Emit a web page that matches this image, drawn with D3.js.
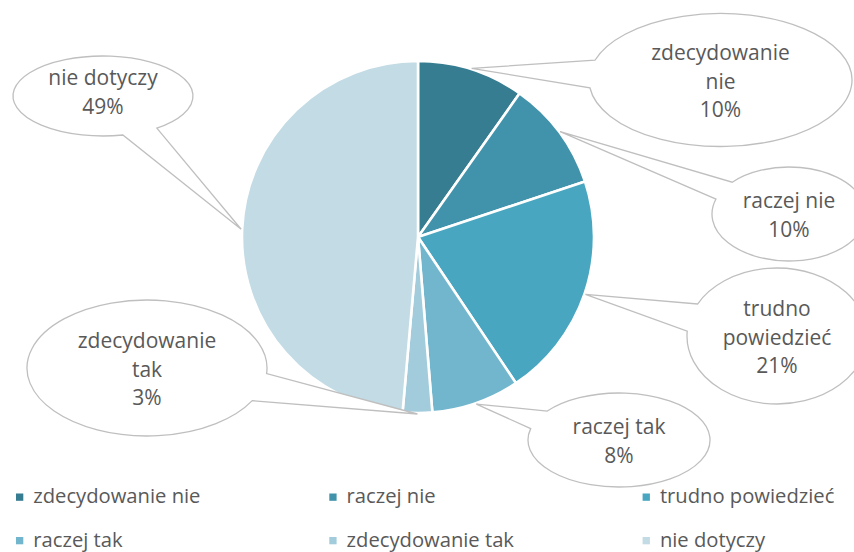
<!DOCTYPE html>
<html>
<head>
<meta charset="utf-8">
<script src="https://cdn.jsdelivr.net/npm/d3@7"></script>
<style>
  html, body { margin: 0; padding: 0; background: #fff; }
  svg { display: block; }
  text { font-family: "Open Sans", Lato, sans-serif; fill: #595959; }
</style>
</head>
<body>
<svg id="chart" width="854" height="552"></svg>
<script>
// ---- data ----
const categories = ["zdecydowanie nie", "raczej nie", "trudno powiedzieć", "raczej tak", "zdecydowanie tak", "nie dotyczy"];
const values = [9.8, 10.1, 20.7, 8.1, 2.7, 48.6];
const labelLines = [["zdecydowanie", "nie"], ["raczej nie"], ["trudno", "powiedzieć"], ["raczej tak"], ["zdecydowanie", "tak"], ["nie dotyczy"]];
const colors = ["#367D91", "#4193AB", "#48A6C0", "#72B6CD", "#A2CCDC", "#C2DBE4"];

// ---- layout ----
const W = 854, H = 552;
const cx = 418, cy = 237, R = 176;
const callouts = [
  { x: 720.5, y: 80, rx: 131.5, ry: 66.5, ty: 80 },
  { x: 789, y: 214, rx: 77, ry: 47, ty: 214 },
  { x: 777, y: 336, rx: 90, ry: 68, ty: 336 },
  { x: 619, y: 440, rx: 91, ry: 47, ty: 440 },
  { x: 147, y: 368, rx: 120, ry: 68, ty: 368 },
  { x: 103, y: 96, rx: 90, ry: 40, ty: 91 }
];
const fontSize = 21, legendFontSize = 20.2, lineH = 28.5;

const svg = d3.select("#chart");
const total = d3.sum(values);
const pct = d3.format(".0%");

const pie = d3.pie().sort(null).value(d => d)(values);
const arc = d3.arc().innerRadius(0).outerRadius(R);
const tipArc = d3.arc().innerRadius(R + 1).outerRadius(R + 1);

const g = svg.append("g").attr("transform", `translate(${cx},${cy})`);
g.selectAll("path.slice").data(pie).join("path")
  .attr("class", "slice")
  .attr("d", arc)
  .attr("fill", (d, i) => colors[i])
  .attr("stroke", "#fff")
  .attr("stroke-width", 2.6)
  .attr("stroke-linejoin", "round");

// callouts
const delta = 12 * Math.PI / 180;
pie.forEach((d, i) => {
  const c = callouts[i];
  const [tx0, ty0] = tipArc.centroid(d);
  const tx = tx0 + cx, ty = ty0 + cy;
  const th = Math.atan2((ty - c.y) / c.ry, (tx - c.x) / c.rx);
  const p1 = [c.x + c.rx * Math.cos(th + delta), c.y + c.ry * Math.sin(th + delta)];
  const p2 = [c.x + c.rx * Math.cos(th - delta), c.y + c.ry * Math.sin(th - delta)];
  const path = `M${p1[0]},${p1[1]} A${c.rx},${c.ry} 0 1 1 ${p2[0]},${p2[1]} L${tx},${ty} Z`;
  svg.append("path").attr("d", path)
    .attr("fill", "#fff").attr("stroke", "#BFBFBF").attr("stroke-width", 1.3)
    .attr("stroke-linejoin", "miter");
  const lines = labelLines[i].concat([pct(values[i] / total)]);
  const t = svg.append("text").attr("text-anchor", "middle").attr("font-size", fontSize);
  const y0 = c.ty - (lines.length - 1) * lineH / 2 + 8.5;
  lines.forEach((l, k) => t.append("tspan").attr("x", c.x).attr("y", y0 + k * lineH).text(l));
});

// legend
const legX = d3.scalePoint().domain([0, 1, 2]).range([16, 642.6]);
const legY = d3.scalePoint().domain([0, 1]).range([497, 540.5]);
const leg = svg.append("g");
categories.forEach((name, i) => {
  const col = i % 3, row = Math.floor(i / 3);
  const x = legX(col), y = legY(row);
  leg.append("rect").attr("x", x).attr("y", y - 3.5).attr("width", 7.3).attr("height", 7.3).attr("fill", colors[i]);
  leg.append("text").attr("x", x + 17.3).attr("y", y + 6).attr("font-size", legendFontSize).text(name);
});
</script>
</body>
</html>
